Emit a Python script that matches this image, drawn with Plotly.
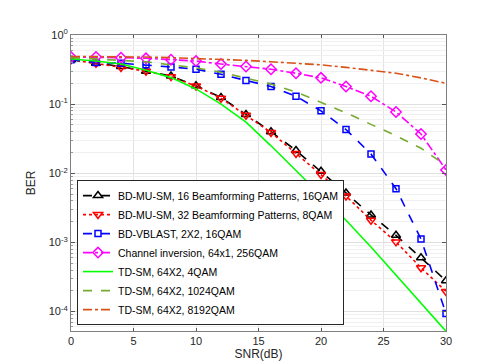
import plotly.graph_objects as go

snr = [0, 2, 4, 6, 8, 10, 12, 14, 16, 18, 20, 22, 24, 26, 28, 30]

ber_bd16 = [0.44, 0.39, 0.35, 0.30, 0.255, 0.185, 0.125, 0.071, 0.040, 0.0214, 0.0107, 0.0052, 0.0025, 0.00127, 6.0e-4, 2.8e-4]
ber_bd32 = [0.44, 0.39, 0.34, 0.30, 0.25, 0.183, 0.122, 0.069, 0.039, 0.0194, 0.0096, 0.0047, 0.0021, 0.00102, 4.3e-4, 1.96e-4]
ber_vblast = [0.44, 0.40, 0.39, 0.37, 0.345, 0.32, 0.27, 0.22, 0.18, 0.13, 0.080, 0.043, 0.019, 0.006, 0.00112, 9.4e-5]
ber_inv = [0.48, 0.48, 0.47, 0.46, 0.44, 0.42, 0.38, 0.35, 0.32, 0.28, 0.24, 0.18, 0.13, 0.077, 0.037, 0.0112]
ber_td4 = [0.45, 0.42, 0.38, 0.31, 0.242, 0.166, 0.10, 0.055, 0.025, 0.011, 0.0047, 0.0021, 8.6e-4, 3.4e-4, 1.36e-4, 5.2e-5]
ber_td1024 = [0.47, 0.45, 0.43, 0.41, 0.37, 0.335, 0.29, 0.24, 0.195, 0.15, 0.105, 0.075, 0.051, 0.035, 0.023, 0.013]
ber_td8192 = [0.49, 0.49, 0.48, 0.48, 0.47, 0.46, 0.44, 0.43, 0.41, 0.39, 0.37, 0.34, 0.31, 0.28, 0.24, 0.20]

names = [
    "BD-MU-SM, 16 Beamforming Patterns, 16QAM",
    "BD-MU-SM, 32 Beamforming Patterns, 8QAM",
    "BD-VBLAST, 2X2, 16QAM",
    "Channel inversion, 64x1, 256QAM",
    "TD-SM, 64X2, 4QAM",
    "TD-SM, 64X2, 1024QAM",
    "TD-SM, 64X2, 8192QAM",
]

y_tickvals = [1e-4, 1e-3, 1e-2, 1e-1, 1]
y_ticktext = ["10<sup>-4</sup>", "10<sup>-3</sup>", "10<sup>-2</sup>", "10<sup>-1</sup>", "10<sup>0</sup>"]
y_minor_vals = [m * d for d in [1e-5, 1e-4, 1e-3, 1e-2, 1e-1] for m in range(2, 10)]
x_tickvals = [0, 5, 10, 15, 20, 25, 30]

fig = go.Figure()

# invisible trace that anchors the minor-grid overlay axis
fig.add_trace(go.Scatter(x=[snr[0]], y=[y_tickvals[-1]], yaxis="y2", mode="markers",
                         marker=dict(opacity=0), showlegend=False, hoverinfo="skip"))

def add(y, name, color, dash, symbol=None, msize=8):
    mode = "lines+markers" if symbol else "lines"
    kw = {}
    if symbol:
        kw["marker"] = dict(symbol=symbol, size=msize, color=color,
                            line=dict(color=color, width=1.5))
    fig.add_trace(go.Scatter(
        x=snr, y=y, name=name, mode=mode,
        line=dict(color=color, dash=dash, width=1.6), **kw,
    ))

add(ber_bd16, names[0], "#000000", "dash", "triangle-up-open", 8)
add(ber_bd32, names[1], "#FF0000", "dot", "triangle-down-open", 8)
add(ber_vblast, names[2], "#0000FF", "dash", "square-open", 6)
add(ber_inv, names[3], "#FF00FF", "dashdot", "diamond-open", 8)
add(ber_td4, names[4], "#00FF00", "solid")
add(ber_td1024, names[5], "#77AC30", "dash")
add(ber_td8192, names[6], "#D95319", "dashdot")

font = "Liberation Sans, Arial, sans-serif"

fig.update_layout(
    width=485, height=363,
    margin=dict(l=63, r=47, t=27, b=40, autoexpand=False),
    paper_bgcolor="white", plot_bgcolor="white",
    font=dict(family=font, size=11, color="#262626"),
    showlegend=True,
    legend=dict(
        x=0.016, y=0.02, xanchor="left", yanchor="bottom",
        bgcolor="white", bordercolor="#262626", borderwidth=1,
        font=dict(size=10.5, color="#000000"),
        tracegroupgap=0, itemwidth=30,
    ),
    xaxis=dict(
        range=[0, 30], tickvals=x_tickvals,
        showgrid=True, gridcolor="#e3e3e3", gridwidth=1,
        ticks="inside", ticklen=3, tickcolor="#555",
        showline=True, linecolor="#808080", linewidth=1, mirror="ticks",
        zeroline=False,
        title=dict(text="SNR(dB)", font=dict(size=12), standoff=2),
        tickfont=dict(size=11),
    ),
    yaxis=dict(
        type="log", range=[-4.28, 0],
        tickvals=y_tickvals, ticktext=y_ticktext,
        showgrid=True, gridcolor="#e0e0e0", gridwidth=1,
        ticks="inside", ticklen=4, tickcolor="#555",
        showline=True, linecolor="#808080", linewidth=1, mirror="ticks",
        zeroline=False,
        title=dict(text="BER", font=dict(size=12), standoff=10),
        tickfont=dict(size=11),
    ),
    yaxis2=dict(
        type="log", range=[-4.28, 0], overlaying="y", side="left",
        tickvals=y_minor_vals, showticklabels=False,
        showgrid=True, gridcolor="#f0f0f0", gridwidth=1,
        ticks="inside", ticklen=2, tickcolor="#999",
        showline=False, zeroline=False,
    ),
)

fig.write_html("out.html")
